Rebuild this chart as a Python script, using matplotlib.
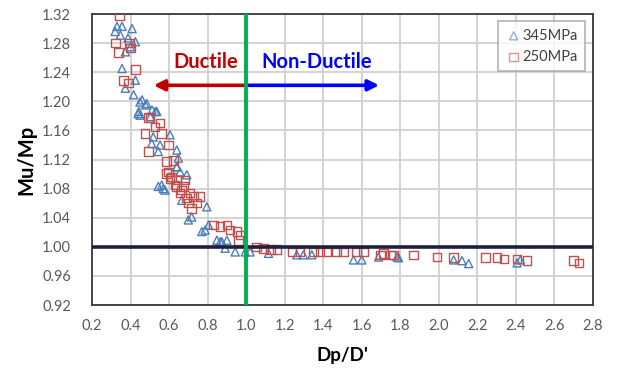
import matplotlib
matplotlib.use("Agg")
import matplotlib.pyplot as plt

# 345MPa series (triangles)
x_345 = [0.33, 0.356, 0.408, 0.32, 0.347, 0.425, 0.387, 0.40, 0.373,
         0.356, 0.425, 0.373, 0.416, 0.46, 0.477, 0.443, 0.512, 0.529, 0.45, 0.503,
         0.449, 0.484, 0.44, 0.536, 0.518, 0.605, 0.51, 0.553, 0.544, 0.64, 0.648,
         0.64, 0.657, 0.544, 0.57, 0.692, 0.64, 0.562, 0.579, 0.666, 0.796, 0.70,
         0.717, 0.77, 0.787, 0.848, 0.874, 0.90, 0.805, 0.865, 0.891, 0.943, 0.995,
         1.02, 1.116, 1.263, 1.297, 1.341, 1.557, 1.60, 1.687, 1.783, 1.791, 2.077,
         2.12, 2.155, 2.406, 2.423]
y_345 = [1.303, 1.303, 1.300, 1.296, 1.291, 1.282, 1.287, 1.275, 1.268,
         1.245, 1.229, 1.218, 1.209, 1.202, 1.195, 1.186, 1.188, 1.186, 1.181, 1.179,
         1.199, 1.197, 1.183, 1.186, 1.151, 1.154, 1.142, 1.140, 1.131, 1.133, 1.122,
         1.110, 1.103, 1.083, 1.080, 1.099, 1.110, 1.085, 1.078, 1.064, 1.055, 1.037,
         1.041, 1.021, 1.023, 1.009, 1.007, 1.009, 1.030, 1.007, 0.998, 0.993, 0.993,
         0.993, 0.991, 0.989, 0.989, 0.989, 0.982, 0.982, 0.986, 0.986, 0.985, 0.982,
         0.981, 0.977, 0.978, 0.982]

# 250MPa series (squares)
x_250 = [0.342, 0.321, 0.338, 0.40, 0.394, 0.425, 0.365, 0.39, 0.494,
         0.501, 0.553, 0.527, 0.475, 0.562, 0.493, 0.596, 0.588, 0.622, 0.596, 0.614,
         0.64, 0.665, 0.683, 0.588, 0.605, 0.64, 0.631, 0.674, 0.657, 0.709, 0.691,
         0.726, 0.761, 0.70, 0.744, 0.717, 0.83, 0.865, 0.90, 0.917, 0.952, 0.969,
         0.96, 1.055, 1.09, 1.125, 1.16, 1.237, 1.28, 1.35, 1.384, 1.418, 1.47,
         1.505, 1.574, 1.609, 1.696, 1.748, 1.869, 1.713, 1.765, 1.99, 2.077, 2.242,
         2.302, 2.337, 2.406, 2.458, 2.70, 2.727]
y_250 = [1.317, 1.280, 1.267, 1.273, 1.280, 1.244, 1.229, 1.225, 1.178,
         1.177, 1.170, 1.165, 1.156, 1.156, 1.131, 1.140, 1.117, 1.119, 1.103, 1.096,
         1.083, 1.078, 1.092, 1.101, 1.094, 1.092, 1.085, 1.083, 1.074, 1.074, 1.067,
         1.069, 1.069, 1.060, 1.060, 1.053, 1.030, 1.028, 1.030, 1.023, 1.021, 1.016,
         1.009, 1.000, 0.998, 0.996, 0.996, 0.993, 0.993, 0.993, 0.993, 0.993, 0.993,
         0.993, 0.993, 0.993, 0.989, 0.989, 0.989, 0.991, 0.989, 0.986, 0.985, 0.985,
         0.985, 0.983, 0.983, 0.981, 0.981, 0.978]

x_ticks = [0.2, 0.4, 0.6, 0.8, 1.0, 1.2, 1.4, 1.6, 1.8, 2.0, 2.2, 2.4, 2.6, 2.8]
y_ticks = [0.92, 0.96, 1.00, 1.04, 1.08, 1.12, 1.16, 1.20, 1.24, 1.28, 1.32]

boundary_x = 1.0
reference_y = 1.0
arrow_y = 1.222
ductile_tip = 0.52
nonductile_tip = 1.69

plt.rcParams['font.family'] = ['Lato', 'DejaVu Sans']

fig = plt.figure(figsize=(6.19, 3.69), dpi=100)
ax = fig.add_axes([0.1486, 0.1734, 0.8094, 0.7886])

blue = '#4a7ebb'
red = '#c0504d'

ax.grid(True, color='#d0d0d0', linewidth=1.3, zorder=0)
ax.set_axisbelow(True)

ax.scatter(x_345, y_345, marker='^', s=34, facecolors='none',
           edgecolors=blue, linewidths=1.0, zorder=3, label='345MPa')
ax.scatter(x_250, y_250, marker='s', s=38, facecolors='none',
           edgecolors=red, linewidths=1.0, zorder=3, label='250MPa')

ax.axhline(reference_y, color='#1f2040', linewidth=2.6, zorder=4)
ax.axvline(boundary_x, color='#00b050', linewidth=2.8, zorder=5)

ax.annotate('', xy=(ductile_tip, arrow_y), xytext=(boundary_x, arrow_y),
            arrowprops=dict(arrowstyle='-|>', color='#c00000', lw=2.6,
                            mutation_scale=16, shrinkA=0, shrinkB=0), zorder=4)
ax.annotate('', xy=(nonductile_tip, arrow_y), xytext=(boundary_x, arrow_y),
            arrowprops=dict(arrowstyle='-|>', color='#0000ff', lw=2.6,
                            mutation_scale=16, shrinkA=0, shrinkB=0), zorder=4)
ax.text(0.79, 1.254, 'Ductile', color='#c00000', fontsize=14.5,
        fontweight='bold', ha='center', va='center', zorder=6)
ax.text(1.365, 1.254, 'Non-Ductile', color='#0000ff', fontsize=14.5,
        fontweight='bold', ha='center', va='center', zorder=6)

ax.set_xlim(0.2, 2.8)
ax.set_ylim(0.92, 1.32)
ax.set_xticks(x_ticks)
ax.set_xticklabels([f'{v:.1f}' for v in x_ticks])
ax.set_yticks(y_ticks)
ax.set_yticklabels([f'{v:.2f}' for v in y_ticks])
ax.tick_params(length=0, labelsize=10.5, labelcolor='#595959')
ax.tick_params(axis='y', pad=15)
ax.tick_params(axis='x', pad=10)

for s in ax.spines.values():
    s.set_color('#3a3a3a')
    s.set_linewidth(1.3)

ax.set_xlabel("Dp/D'", fontsize=13.5, fontweight='bold', labelpad=10)
ax.set_ylabel('Mu/Mp', fontsize=14.5, fontweight='bold', labelpad=4)

leg = ax.legend(loc='upper right', bbox_to_anchor=(0.99, 0.985), fontsize=10.5,
                frameon=True, fancybox=False, edgecolor='#a0a0a0',
                handletextpad=0.05, borderpad=0.5, labelspacing=0.5,
                handlelength=1.1, borderaxespad=0.2)
leg.get_frame().set_linewidth(1.2)
for t in leg.get_texts():
    t.set_color('#404040')
for h in leg.legend_handles:
    h.set_alpha(0.6)

fig.savefig('out.png', dpi=100)
